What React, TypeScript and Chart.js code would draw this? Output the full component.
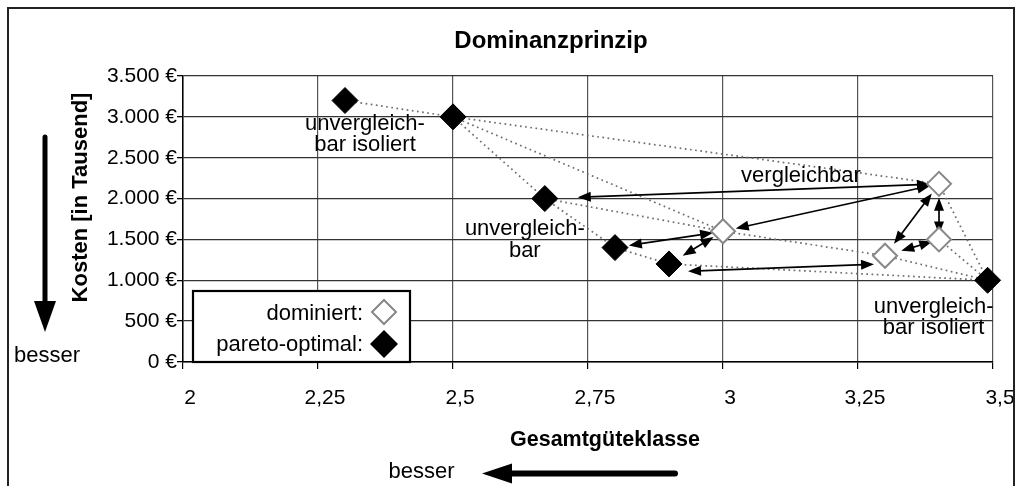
import React, { useEffect, useRef } from 'react';
import { Chart, registerables } from 'chart.js';

Chart.register(...registerables);

// ---------- data ----------
const paretoX = [2.3, 2.5, 2.67, 2.8, 2.9, 3.49];
const paretoY = [3200, 3000, 2000, 1400, 1200, 1000];
const dominatedX = [3.0, 3.4, 3.4, 3.3];
const dominatedY = [1600, 2180, 1500, 1300];

const xTickValues = [2, 2.25, 2.5, 2.75, 3, 3.25, 3.5];
const xTickLabels = ['2', '2,25', '2,5', '2,75', '3', '3,25', '3,5'];
const yTickValues = [0, 500, 1000, 1500, 2000, 2500, 3000, 3500];
const yTickLabels = ['0 €', '500 €', '1.000 €', '1.500 €', '2.000 €', '2.500 €', '3.000 €', '3.500 €'];

const seriesLabels = ['dominiert:', 'pareto-optimal:'];
const chartTitle = 'Dominanzprinzip';
const xTitle = 'Gesamtgüteklasse';
const yTitle = 'Kosten [in Tausend]';
const betterText = 'besser';

// dotted outline links (p = pareto-optimal, d = dominiert)
const dottedLinks: [string, string][] = [
  ['p0', 'p1'], ['p1', 'd1'], ['p1', 'd0'], ['p1', 'p2'], ['p2', 'd0'], ['p2', 'p3'],
  ['p3', 'p4'], ['p4', 'p5'], ['d0', 'd3'], ['d3', 'p5'], ['d1', 'p5'], ['d2', 'p5'],
];
// comparison arrows
const arrowLinks: [string, string][] = [
  ['p2', 'd1'], ['d0', 'd1'], ['p3', 'd0'], ['p4', 'd0'],
  ['p4', 'd3'], ['d3', 'd1'], ['d1', 'd2'], ['d3', 'd2'],
];
// annotation texts
const noteTexts: string[][] = [
  ['unvergleich-', 'bar isoliert'],
  ['unvergleich-', 'bar'],
  ['vergleichbar'],
  ['unvergleich-', 'bar isoliert'],
];
const noteAnchors = ['p0', 'p2', 'd1', 'p5'];

// ---------- styles ----------
const FONT = '"Liberation Sans", Arial, Helvetica, sans-serif';
// [gapStart, gapEnd, shiftY] in px
const arrowStyle: [number, number, number][] = [
  [33, 9, 0], [13, 9, 0], [14, 10, 0], [16, 11, 0],
  [19, 11, 8], [15, 12, 0], [13, 6, 1], [17, 7, 0],
];
// [dx, dy(first baseline), lineSpacing]
const noteStyle: [number, number, number][] = [
  [20, 29.5, 21], [-20, 36.5, 22], [-138, -2, 21], [-54, 33, 21],
];

function diamond(ctx: CanvasRenderingContext2D, x: number, y: number, r: number) {
  ctx.beginPath();
  ctx.moveTo(x - r, y);
  ctx.lineTo(x, y - r);
  ctx.lineTo(x + r, y);
  ctx.lineTo(x, y + r);
  ctx.closePath();
}

function head(ctx: CanvasRenderingContext2D, tx: number, ty: number, ux: number, uy: number, len: number, hw: number) {
  const bx = tx - ux * len;
  const by = ty - uy * len;
  ctx.beginPath();
  ctx.moveTo(tx, ty);
  ctx.lineTo(bx - uy * hw, by + ux * hw);
  ctx.lineTo(bx + uy * hw, by - ux * hw);
  ctx.closePath();
  ctx.fill();
}

export default function App() {
  const ref = useRef<HTMLCanvasElement>(null);

  useEffect(() => {
    const canvas = ref.current!;

    const pos = (chart: any, key: string) => {
      const xs = chart.scales.x;
      const ys = chart.scales.y;
      const i = parseInt(key.slice(1), 10);
      if (key[0] === 'p') return { x: xs.getPixelForValue(paretoX[i]), y: ys.getPixelForValue(paretoY[i]) };
      return { x: xs.getPixelForValue(dominatedX[i]), y: ys.getPixelForValue(dominatedY[i]) };
    };

    const plugin = {
      id: 'dominanz',
      beforeDraw(chart: any) {
        const ctx = chart.ctx as CanvasRenderingContext2D;
        ctx.save();
        ctx.fillStyle = '#fff';
        ctx.fillRect(0, 0, chart.width, chart.height);
        ctx.restore();
      },
      beforeDatasetsDraw(chart: any) {
        const ctx = chart.ctx as CanvasRenderingContext2D;
        ctx.save();
        // dotted lines
        ctx.strokeStyle = '#6e6e6e';
        ctx.lineWidth = 1.7;
        ctx.setLineDash([1.7, 3.5]);
        dottedLinks.forEach(([a, b]) => {
          const pa = pos(chart, a);
          const pb = pos(chart, b);
          ctx.beginPath();
          ctx.moveTo(pa.x, pa.y);
          ctx.lineTo(pb.x, pb.y);
          ctx.stroke();
        });
        ctx.setLineDash([]);
        // arrows
        ctx.strokeStyle = '#000';
        ctx.fillStyle = '#000';
        ctx.lineWidth = 1.7;
        arrowLinks.forEach(([a, b], k) => {
          const [g1, g2, sy] = arrowStyle[k];
          const pa = pos(chart, a);
          const pb = pos(chart, b);
          const dx = pb.x - pa.x;
          const dy = pb.y - pa.y;
          const L = Math.hypot(dx, dy);
          const ux = dx / L;
          const uy = dy / L;
          const sx0 = pa.x + ux * g1;
          const sy0 = pa.y + uy * g1 + sy;
          const ex0 = pb.x - ux * g2;
          const ey0 = pb.y - uy * g2 + sy;
          const hl = 13;
          ctx.beginPath();
          ctx.moveTo(sx0 + ux * hl * 0.8, sy0 + uy * hl * 0.8);
          ctx.lineTo(ex0 - ux * hl * 0.8, ey0 - uy * hl * 0.8);
          ctx.stroke();
          head(ctx, ex0, ey0, ux, uy, hl, 5);
          head(ctx, sx0, sy0, -ux, -uy, hl, 5);
        });
        ctx.restore();
      },
      afterDatasetsDraw(chart: any) {
        const ctx = chart.ctx as CanvasRenderingContext2D;
        ctx.save();
        ctx.fillStyle = '#000';
        ctx.textBaseline = 'alphabetic';

        // annotation texts
        ctx.font = `22px ${FONT}`;
        ctx.textAlign = 'center';
        noteTexts.forEach((lines, k) => {
          const p = pos(chart, noteAnchors[k]);
          const [dx, dy, ls] = noteStyle[k];
          lines.forEach((t, j) => ctx.fillText(t, p.x + dx, p.y + dy + j * ls));
        });

        // legend
        ctx.fillStyle = '#fff';
        ctx.fillRect(193, 291, 217, 71);
        ctx.strokeStyle = '#000';
        ctx.lineWidth = 2.2;
        ctx.strokeRect(193, 291, 217, 71);
        ctx.fillStyle = '#000';
        ctx.textAlign = 'right';
        ctx.font = `22px ${FONT}`;
        ctx.fillText(seriesLabels[0], 363, 320);
        ctx.fillText(seriesLabels[1], 363, 351);
        diamond(ctx, 384, 312, 12);
        ctx.fillStyle = '#fff';
        ctx.fill();
        ctx.strokeStyle = '#888';
        ctx.lineWidth = 2;
        ctx.stroke();
        diamond(ctx, 384, 344, 14);
        ctx.fillStyle = '#000';
        ctx.fill();

        // title
        ctx.textAlign = 'center';
        ctx.font = `bold 24px ${FONT}`;
        ctx.fillText(chartTitle, 551, 48);

        // x title
        ctx.font = `bold 21.5px ${FONT}`;
        ctx.fillText(xTitle, 605, 446);

        // y title
        ctx.save();
        ctx.translate(87, 197.5);
        ctx.rotate(-Math.PI / 2);
        ctx.font = `bold 22px ${FONT}`;
        ctx.fillText(yTitle, 0, 0);
        ctx.restore();

        // "besser" left + down arrow
        ctx.font = `22px ${FONT}`;
        ctx.textAlign = 'center';
        ctx.fillText(betterText, 47, 362);
        ctx.strokeStyle = '#000';
        ctx.lineWidth = 5;
        ctx.lineCap = 'round';
        ctx.beginPath();
        ctx.moveTo(45, 137);
        ctx.lineTo(45, 305);
        ctx.stroke();
        head(ctx, 45, 332, 0, 1, 31, 11);

        // "besser" bottom + left arrow
        ctx.fillText(betterText, 421.5, 478);
        ctx.lineWidth = 6;
        ctx.beginPath();
        ctx.moveTo(675, 473.5);
        ctx.lineTo(505, 473.5);
        ctx.stroke();
        head(ctx, 482, 473.5, -1, 0, 30, 10);

        // outer frame
        ctx.lineCap = 'butt';
        ctx.lineWidth = 2;
        ctx.strokeStyle = '#222';
        ctx.strokeRect(8, 8, 1006, 560);
        ctx.restore();
      },
    };

    const chart = new Chart(canvas, {
      type: 'scatter',
      data: {
        datasets: [
          {
            label: seriesLabels[0],
            data: dominatedX.map((x, i) => ({ x, y: dominatedY[i] })),
            pointStyle: 'rectRot',
            pointRadius: 12,
            pointBackgroundColor: '#fff',
            pointBorderColor: '#888',
            pointBorderWidth: 2,
            clip: false,
          },
          {
            label: seriesLabels[1],
            data: paretoX.map((x, i) => ({ x, y: paretoY[i] })),
            pointStyle: 'rectRot',
            pointRadius: 13,
            pointBackgroundColor: '#000',
            pointBorderColor: '#000',
            pointBorderWidth: 1,
            clip: false,
          },
        ],
      } as any,
      options: {
        responsive: false,
        animation: false,
        devicePixelRatio: 1,
        events: [],
        layout: { padding: { left: 0, right: 25, top: 76, bottom: 0 } },
        plugins: {
          legend: { display: false },
          title: { display: false },
          tooltip: { enabled: false },
        },
        scales: {
          x: {
            type: 'linear',
            min: 2,
            max: 3.5,
            afterBuildTicks: (s: any) => {
              s.ticks = xTickValues.map((v) => ({ value: v }));
            },
            afterFit: (s: any) => {
              s.height = 124;
              s.paddingLeft = 0;
              s.paddingRight = 0;
            },
            ticks: {
              callback: (_v: any, i: number) => xTickLabels[i],
              font: { family: FONT, size: 21 },
              color: '#000',
              padding: 17,
              labelOffset: 7,
              maxRotation: 0,
              autoSkip: false,
            },
            grid: { color: '#555', lineWidth: 1.2, tickLength: 7, tickColor: '#000' },
            border: { color: '#000', width: 1.5 },
          },
          y: {
            type: 'linear',
            min: 0,
            max: 3500,
            afterBuildTicks: (s: any) => {
              s.ticks = yTickValues.map((v) => ({ value: v }));
            },
            afterFit: (s: any) => {
              s.width = 183;
              s.paddingTop = 0;
              s.paddingBottom = 0;
            },
            ticks: {
              callback: (_v: any, i: number) => yTickLabels[i],
              font: { family: FONT, size: 21 },
              color: '#000',
              padding: 0,
              autoSkip: false,
            },
            grid: { color: '#333', lineWidth: 1.3, tickLength: 6, tickColor: '#000' },
            border: { color: '#000', width: 1.5 },
          },
        },
      } as any,
      plugins: [plugin],
    });

    return () => chart.destroy();
  }, []);

  return (
    <div style={{ position: 'fixed', left: 0, top: 0, width: 1018, height: 486, background: '#fff' }}>
      <canvas ref={ref} width={1018} height={486} style={{ display: 'block', width: 1018, height: 486 }} />
    </div>
  );
}
